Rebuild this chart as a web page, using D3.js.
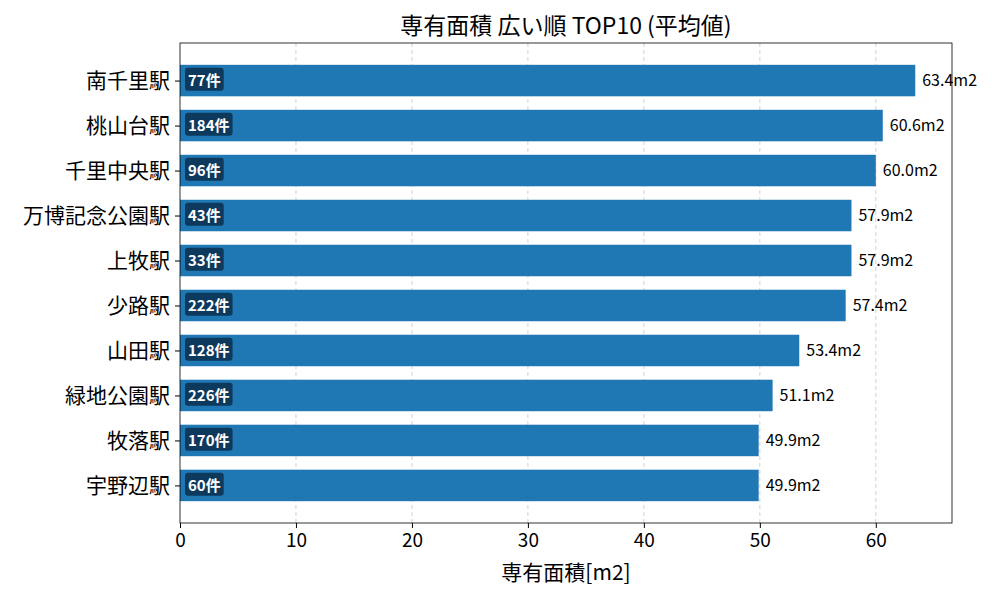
<!DOCTYPE html>
<html><head><meta charset="utf-8">
<script src="https://cdn.jsdelivr.net/npm/d3@7"></script>
<style>body{margin:0;background:#fff}text{font-family:"Noto Sans CJK JP","Noto Sans",sans-serif}</style>
</head><body><svg id="c" width="1000" height="600"></svg>
<script>
const stations = ["南千里駅","桃山台駅","千里中央駅","万博記念公園駅","上牧駅","少路駅","山田駅","緑地公園駅","牧落駅","宇野辺駅"];
const areas = [63.4,60.6,60.0,57.9,57.9,57.4,53.4,51.1,49.9,49.9];
const counts = [77,184,96,43,33,222,128,226,170,60];
const xTicks = [0,10,20,30,40,50,60];

const svg = d3.select("#c");
const L = 180, R = 952, T = 43, B = 523;
const x = d3.scaleLinear().domain([0, 66.57]).range([L, R]);
// matplotlib-like: index i at center, ylim -0.835..9.835
const y = d3.scaleLinear().domain([-0.835, 9.835]).range([T, B]);
const bh = y(0.35) - y(-0.35);

// grid
svg.append("g").selectAll("line").data(xTicks.slice(1)).join("line")
  .attr("x1", d => x(d)).attr("x2", d => x(d)).attr("y1", T).attr("y2", B)
  .attr("stroke", "#b0b0b0").attr("stroke-dasharray", "4,3").attr("stroke-width", 0.8).attr("opacity", 0.7);

const g = svg.append("g");
g.selectAll("rect.bar").data(areas).join("rect").attr("class", "bar")
  .attr("x", x(0)).attr("y", (d, i) => y(i) - bh / 2)
  .attr("width", d => x(d) - x(0)).attr("height", bh).attr("fill", "#1f77b4");

g.selectAll("text.val").data(areas).join("text").attr("class", "val")
  .attr("x", d => x(d) + 7).attr("y", (d, i) => y(i)).attr("dy", "0.35em")
  .attr("font-size", 16).attr("fill", "#000").text(d => d.toFixed(1) + "m2");

const lab = g.selectAll("g.cnt").data(counts).join("g").attr("class", "cnt");
lab.each(function(d, i) {
  const s = d3.select(this);
  const t = s.append("text").attr("x", x(0) + 8).attr("y", y(i)).attr("dy", "0.35em")
    .attr("font-size", 15).attr("font-weight", "bold").attr("fill", "#fff").text(d + "件");
  const bb = t.node().getBBox();
  s.insert("rect", "text").attr("x", bb.x - 3).attr("y", bb.y - 1)
    .attr("width", bb.width + 6).attr("height", bb.height + 2).attr("rx", 3)
    .attr("fill", "#0d3a5c");
});

// frame
svg.append("rect").attr("x", L).attr("y", T).attr("width", R - L).attr("height", B - T)
  .attr("fill", "none").attr("stroke", "#000").attr("stroke-width", 0.8);

// x axis
const xa = svg.append("g").attr("transform", `translate(0,${B})`)
  .call(d3.axisBottom(x).tickValues(xTicks).tickSize(5).tickPadding(6));
xa.select(".domain").remove();
xa.selectAll("text").attr("font-size", 19).attr("fill", "#000")
  .style("font-family", '"Noto Sans CJK JP",sans-serif');

// y axis
const ya = svg.append("g").attr("transform", `translate(${L},0)`)
  .call(d3.axisLeft(y).tickValues(d3.range(10)).tickFormat(i => stations[i]).tickSize(5).tickPadding(5));
ya.select(".domain").remove();
ya.selectAll("text").attr("font-size", 21).attr("fill", "#000")
  .style("font-family", '"Noto Sans CJK JP",sans-serif');

svg.append("text").attr("x", (L + R) / 2).attr("y", 580).attr("text-anchor", "middle")
  .attr("font-size", 21).text("専有面積[m2]");
svg.append("text").attr("x", (L + R) / 2).attr("y", 34).attr("text-anchor", "middle")
  .attr("font-size", 23).text("専有面積 広い順 TOP10 (平均値)");
</script></body></html>
